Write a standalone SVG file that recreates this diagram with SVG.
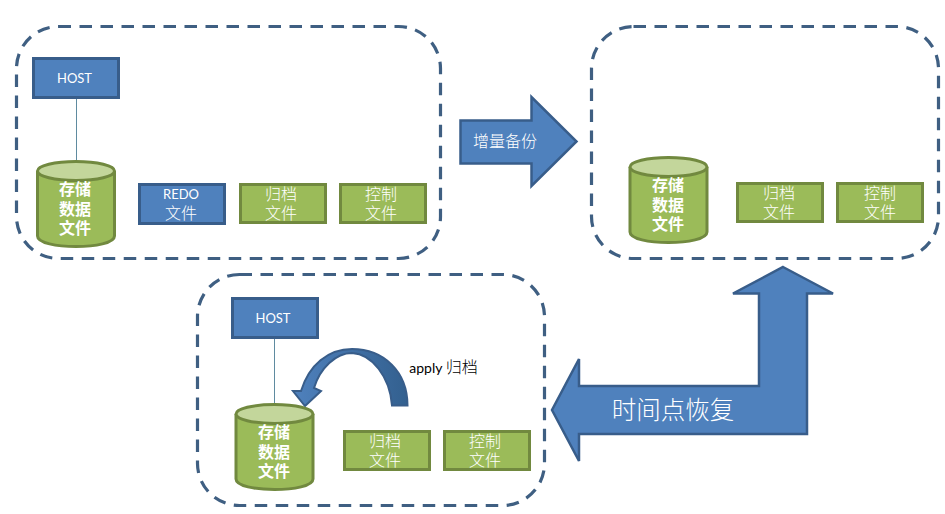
<svg xmlns="http://www.w3.org/2000/svg" width="945" height="514" viewBox="0 0 945 514">
<style>
.panel{fill:#fff;stroke:#3f5f82;stroke-width:3.2;stroke-dasharray:12.5 8.5}
.blue{fill:#4f81bd;stroke:#385d8a;stroke-width:3}
.green{fill:#9bbb59;stroke:#71893f;stroke-width:3}
.top{fill:#c3d69b;stroke:#71893f;stroke-width:3}
.link{stroke:#5f8ba0;stroke-width:1;fill:none}
text{font-family:"Noto Sans CJK SC","Liberation Sans",sans-serif;fill:#fff;text-anchor:middle}
.s{font-size:13px;font-family:"Lato","Noto Sans CJK SC",sans-serif}
.m{font-size:16px;font-weight:300}
.b{font-size:16px;font-weight:700}
.arrow{fill:#4f81bd;stroke:#385d8a;stroke-width:2.5}
</style>
<g id="panel-top-left"><rect class="panel" x="16.500" y="26.500" width="424" height="232" rx="42"/></g>
<g id="panel-top-right"><rect class="panel" x="591.500" y="26.500" width="347" height="232" rx="42"/></g>
<g id="panel-bottom"><rect class="panel" x="197.500" y="274.500" width="347" height="231" rx="42"/></g>
<g id="connectors">
<line class="link" x1="76.500" y1="98" x2="76.500" y2="162"/>
<line class="link" x1="274.500" y1="338" x2="274.500" y2="406"/>
</g>
<g id="host-1"><rect class="blue" x="33.500" y="58.500" width="85" height="39"/><text class="s" x="74.500" y="83">HOST</text></g>
<g id="db-1"><path class="green" d="M37.500 171V236C37.500 250 114.500 250 114.500 236V171"/><ellipse class="top" cx="76" cy="171" rx="38.500" ry="9.500"/><text class="b" x="75" y="195">存储<tspan x="75" dy="19.500">数据</tspan><tspan x="75" dy="19.500">文件</tspan></text></g>
<g id="redo"><rect class="blue" x="139.500" y="184.500" width="85" height="39"/><text x="181" y="199"><tspan class="s">REDO</tspan><tspan class="m" x="181" dy="20">文件</tspan></text></g>
<g id="archive-1"><rect class="green" x="240.500" y="184.500" width="85" height="38"/><text class="m" x="281" y="200">归档<tspan x="281" dy="19">文件</tspan></text></g>
<g id="control-1"><rect class="green" x="340.500" y="184.500" width="85" height="38"/><text class="m" x="381" y="200">控制<tspan x="381" dy="19">文件</tspan></text></g>
<g id="incremental-arrow"><path class="arrow" d="M460.500 120.500H531.500V97L576.500 141.500L531.500 186V163.500H460.500Z"/><text x="505" y="147" style="font-size:16px;font-weight:300">增量备份</text></g>
<g id="db-2"><path class="green" d="M630 167V232C630 246 707 246 707 232V167"/><ellipse class="top" cx="668.500" cy="167" rx="38.500" ry="9.500"/><text class="b" x="668" y="191">存储<tspan x="668" dy="19.500">数据</tspan><tspan x="668" dy="19.500">文件</tspan></text></g>
<g id="archive-2"><rect class="green" x="737.500" y="183.500" width="85" height="38"/><text class="m" x="779" y="199">归档<tspan x="779" dy="19">文件</tspan></text></g>
<g id="control-2"><rect class="green" x="837.500" y="183.500" width="85" height="38"/><text class="m" x="880" y="199">控制<tspan x="880" dy="19">文件</tspan></text></g>
<g id="restore-arrow"><path class="arrow" d="M783 267L833 293.500H807V434H579V461L552 410L579 359V386H759V293.500H733Z"/><text x="673" y="419" style="font-size:24.500px;font-weight:300">时间点恢复</text></g>
<g id="host-2"><rect class="blue" x="232.500" y="298.500" width="85" height="39"/><text class="s" x="273" y="323">HOST</text></g>
<g id="apply-arrow"><defs><linearGradient id="g" x1="0" y1="0" x2="1" y2="0"><stop offset="0" stop-color="#4f81bd"/><stop offset="1" stop-color="#33608f"/></linearGradient></defs><path d="M407.500 405.500H392C390 377 372 354 352 353C336 353 320 368 314 388L321 391L305 406L293 391L301 391C309 365 328 349 352 349C384 349 407.500 372 407.500 405.500Z" fill="url(#g)" stroke="#385d8a" stroke-width="2"/></g>
<text x="443.500" y="373" style="font-size:14px;fill:#000;font-family:'Lato','Noto Sans CJK SC',sans-serif">apply <tspan style="font-size:16px;font-weight:300">归档</tspan></text>
<g id="db-3"><path class="green" d="M236 414V479C236 493 313 493 313 479V414"/><ellipse class="top" cx="274.500" cy="414" rx="38.500" ry="9.500"/><text class="b" x="274" y="438">存储<tspan x="274" dy="19.500">数据</tspan><tspan x="274" dy="19.500">文件</tspan></text></g>
<g id="archive-3"><rect class="green" x="344.500" y="431.500" width="85" height="38"/><text class="m" x="385" y="447">归档<tspan x="385" dy="19">文件</tspan></text></g>
<g id="control-3"><rect class="green" x="444.500" y="431.500" width="85" height="38"/><text class="m" x="485" y="447">控制<tspan x="485" dy="19">文件</tspan></text></g>
</svg>
